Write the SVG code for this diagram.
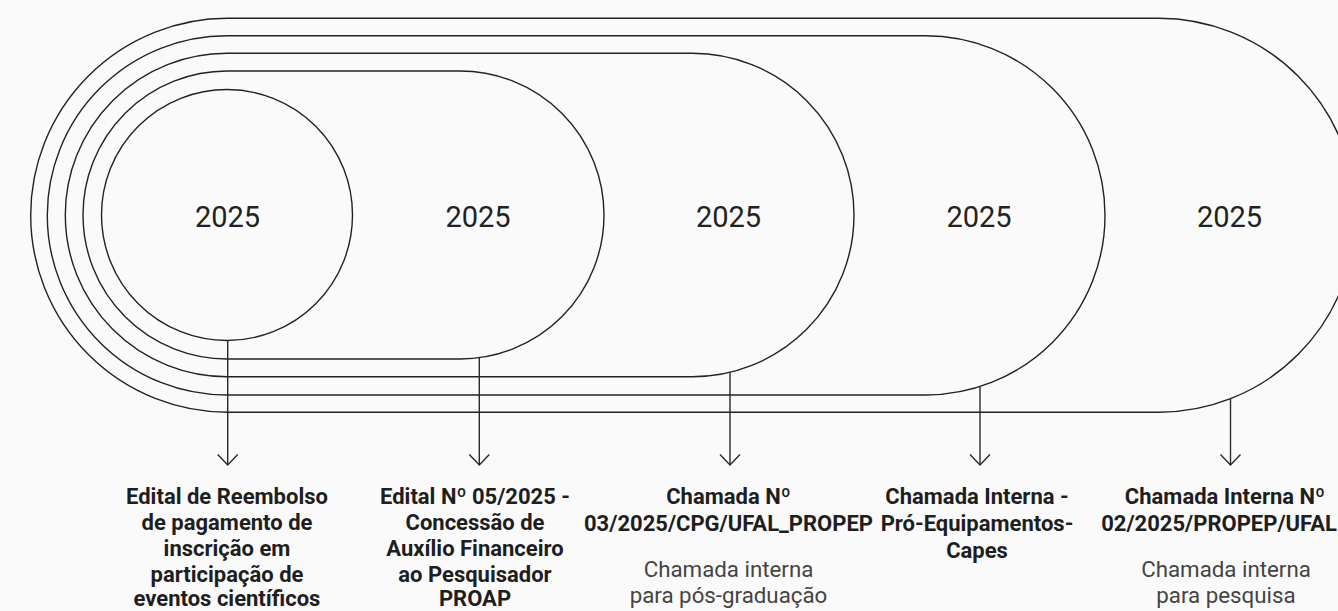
<svg xmlns="http://www.w3.org/2000/svg" width="1338" height="611" viewBox="0 0 1338 611">
<defs>
<style>
.shape{fill:none;stroke:#222;stroke-width:1.4}
.yr{font-family:Roboto,"Liberation Sans",sans-serif;font-size:29px;fill:#222;text-anchor:middle}
.lb{font-family:Roboto,"Liberation Sans",sans-serif;font-size:22px;font-weight:700;fill:#1e1e1e;text-anchor:middle}
.sub{font-family:Roboto,"Liberation Sans",sans-serif;font-size:22.3px;fill:#444;text-anchor:middle}
.conn{stroke:#2a2a2a;stroke-width:1.4;fill:none}
</style>
<marker id="arr" markerUnits="userSpaceOnUse" markerWidth="26" markerHeight="26" viewBox="-13 -13 26 26" refX="0" refY="0" orient="auto">
<path d="M-10.5,-10 L0,0 L-10.5,10" fill="none" stroke="#2a2a2a" stroke-width="1.4"/>
</marker>
</defs>
<rect width="1338" height="611" fill="#fafafa"/>
<g id="node5"><rect class="shape" x="30.7" y="18.3" width="1325" height="394" rx="197" ry="197"/><text class="yr" x="1229.5" y="226.5">2025</text></g>
<g id="node4"><rect class="shape" x="47.3" y="35.7" width="1057.7" height="359.3" rx="179.6" ry="179.6"/><text class="yr" x="979" y="226.5">2025</text></g>
<g id="node3"><rect class="shape" x="65.3" y="53.3" width="788.7" height="323.4" rx="161.7" ry="161.7"/><text class="yr" x="728.5" y="226.5">2025</text></g>
<g id="node2"><rect class="shape" x="83" y="71" width="521" height="288" rx="144" ry="144"/><text class="yr" x="478" y="226.5">2025</text></g>
<g id="node1"><circle class="shape" cx="227" cy="215" r="125.5"/><text class="yr" x="227.5" y="226.5">2025</text></g>
<g id="connectors">
<line class="conn" x1="227.7" y1="340.5" x2="227.7" y2="465" marker-end="url(#arr)"/>
<line class="conn" x1="479.3" y1="357.7" x2="479.3" y2="465" marker-end="url(#arr)"/>
<line class="conn" x1="730" y1="372.2" x2="730" y2="465" marker-end="url(#arr)"/>
<line class="conn" x1="980" y1="386.2" x2="980" y2="465" marker-end="url(#arr)"/>
<line class="conn" x1="1230.5" y1="398.6" x2="1230.5" y2="465" marker-end="url(#arr)"/>
</g>
<g id="label1">
<text class="lb" x="227" y="503.5">Edital de Reembolso</text>
<text class="lb" x="227" y="529.5">de pagamento de</text>
<text class="lb" x="227" y="555.5">inscrição em</text>
<text class="lb" x="227" y="581.5">participação de</text>
<text class="lb" x="227" y="606">eventos científicos</text>
</g>
<g id="label2">
<text class="lb" x="475" y="503.5">Edital Nº 05/2025 -</text>
<text class="lb" x="475" y="529.5">Concessão de</text>
<text class="lb" x="475" y="555.5">Auxílio Financeiro</text>
<text class="lb" x="475" y="581.5">ao Pesquisador</text>
<text class="lb" x="475" y="606">PROAP</text>
</g>
<g id="label3">
<text class="lb" x="728.5" y="503.5">Chamada Nº</text>
<text class="lb" x="728.5" y="530.5">03/2025/CPG/UFAL_PROPEP</text>
<text class="sub" x="728.5" y="577">Chamada interna</text>
<text class="sub" x="728.5" y="603">para pós-graduação</text>
</g>
<g id="label4">
<text class="lb" x="977" y="503.5">Chamada Interna -</text>
<text class="lb" x="977" y="530.5">Pró-Equipamentos-</text>
<text class="lb" x="977" y="557.5">Capes</text>
</g>
<g id="label5">
<text class="lb" x="1225" y="503.5">Chamada Interna Nº</text>
<text class="lb" x="1219" y="530.5">02/2025/PROPEP/UFAL</text>
<text class="sub" x="1226" y="577">Chamada interna</text>
<text class="sub" x="1226" y="603">para pesquisa</text>
</g>
</svg>
